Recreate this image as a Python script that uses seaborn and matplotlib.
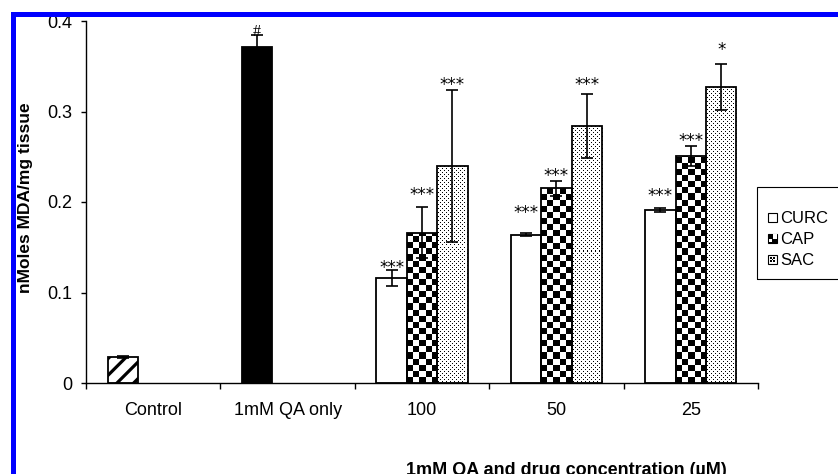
import numpy as np
import pandas as pd
import matplotlib
matplotlib.use("Agg")
import matplotlib.pyplot as plt
import seaborn as sns
from matplotlib.patches import Rectangle
from matplotlib.colors import ListedColormap
from matplotlib.legend_handler import HandlerBase

# ---------------- data ----------------
categories = ["Control", "1mM QA only", "100", "50", "25"]
series = ["CURC", "CAP", "SAC"]
single_groups = ["Control", "1mM QA only"]
single_values = [0.029, 0.371]
single_errors = [0.001, 0.013]
single_labels = ["", "#"]
single_label_y = [None, 0.390]

conc_groups = ["100", "50", "25"]
curc_values = [0.116, 0.164, 0.191]
curc_errors = [0.009, 0.002, 0.002]
cap_values = [0.166, 0.215, 0.251]
cap_errors = [0.028, 0.008, 0.011]
sac_values = [0.240, 0.284, 0.327]
sac_errors = [0.084, 0.035, 0.025]
curc_labels = ["***", "***", "***"]
cap_labels = ["***", "***", "***"]
sac_labels = ["***", "***", "*"]
curc_label_y = [0.132, 0.193, 0.212]
cap_label_y = [0.213, 0.2335, 0.273]
sac_label_y = [0.334, 0.334, 0.3735]

y_ticks = [0, 0.1, 0.2, 0.3, 0.4]
y_ticklabels = ["0", "0.1", "0.2", "0.3", "0.4"]
ylabel = "nMoles MDA/mg tissue"
xlabel = "1mM QA and drug concentration (\u00b5M)"

# ---------------- table ----------------
rows = []
for g, v, e, l, ly in zip(single_groups, single_values, single_errors, single_labels, single_label_y):
    rows.append(dict(group=g, series="CURC", value=v, err=e, label=l, label_y=ly))
for name, vals, errs, labs, lys in [("CURC", curc_values, curc_errors, curc_labels, curc_label_y),
                                    ("CAP", cap_values, cap_errors, cap_labels, cap_label_y),
                                    ("SAC", sac_values, sac_errors, sac_labels, sac_label_y)]:
    for g, v, e, l, ly in zip(conc_groups, vals, errs, labs, lys):
        rows.append(dict(group=g, series=name, value=v, err=e, label=l, label_y=ly))
df = pd.DataFrame(rows)

# ---------------- style ----------------
sns.set_style("white")
plt.rcParams["font.family"] = ["Liberation Sans", "DejaVu Sans"]
plt.rcParams["hatch.linewidth"] = 2.3
plt.rcParams["hatch.color"] = "black"

W, H = 838, 474
fig = plt.figure(figsize=(W / 100, H / 100), dpi=100)
fig.patch.set_facecolor("white")
ax = fig.add_axes([86 / W, 1 - 383 / H, 672 / W, 362 / H])
ax.set_facecolor("white")

sns.barplot(data=df, x="group", y="value", hue="series", order=categories,
            hue_order=series, palette=["white", "white", "white"], saturation=1,
            width=0.68, dodge=True, errorbar=None, legend=False,
            edgecolor="black", linewidth=1.3, ax=ax)

ax.set_xlim(-0.5, 4.5)
ax.set_ylim(0, 0.4)

# ---------------- styling bars / textures ----------------
checker_cmap = ListedColormap(["white", "black"])


def bar_px(p):
    x0, w, h = p.get_x(), p.get_width(), p.get_height()
    (a, b), (c, d) = ax.transData.transform([(x0, 0), (x0 + w, h)])
    return abs(c - a), abs(d - b)


bars = []
for cont, sname in zip(ax.containers, series):
    for p in cont.patches:
        xc = p.get_x() + p.get_width() / 2
        gi = int(round(xc))
        gname = categories[gi]
        rec = df[(df.group == gname) & (df.series == sname)].iloc[0]
        bars.append((p, gname, sname, rec))

for p, gname, sname, rec in bars:
    x0, w, h = p.get_x(), p.get_width(), p.get_height()
    w_px, h_px = bar_px(p)
    z = p.get_zorder()
    if gname == "Control":
        p.set_facecolor("white")
        p.set_hatch("//")
    elif gname == "1mM QA only":
        p.set_facecolor("black")
    elif sname == "CURC":
        p.set_facecolor("white")
    elif sname == "CAP":
        p.set_facecolor("none")
        nx = max(1, int(round(w_px / 6.3)))
        cell_px = w_px / nx
        ny = int(np.ceil(h_px / cell_px))
        cell_h = cell_px * h / h_px
        arr = (np.add.outer(np.arange(ny), np.arange(nx)) + 1) % 2
        im = ax.imshow(arr, cmap=checker_cmap, vmin=0, vmax=1, origin="lower",
                       extent=(x0, x0 + w, 0, ny * cell_h), interpolation="nearest",
                       aspect="auto", zorder=z - 0.1)
        im.set_clip_path(p)
    elif sname == "SAC":
        p.set_facecolor("none")
        Wp, Hp = int(np.ceil(w_px)) + 1, int(np.ceil(h_px)) + 1
        dx, dy = w / w_px, h / h_px
        arr = np.zeros((Hp, Wp))
        arr[1::4, 1::4] = 1
        arr[3::4, 3::4] = 1
        im = ax.imshow(arr, cmap=checker_cmap, vmin=0, vmax=1, origin="lower",
                       extent=(x0, x0 + Wp * dx, 0, Hp * dy), interpolation="nearest",
                       aspect="auto", zorder=z - 0.1)
        im.set_clip_path(p)

ax.set_xlim(-0.5, 4.5)
ax.set_ylim(0, 0.4)

# ---------------- error bars and significance ----------------
xs = [p.get_x() + p.get_width() / 2 for p, *_ in bars]
ys = [p.get_height() for p, *_ in bars]
es = [rec.err for *_, rec in bars]
ax.errorbar(xs, ys, yerr=es, fmt="none", ecolor="black", elinewidth=1.2,
            capsize=4, capthick=1.2, zorder=5)

for (p, gname, sname, rec), x in zip(bars, xs):
    if not rec.label:
        continue
    if rec.label == "#":
        ax.annotate("#", (x, rec.label_y), xytext=(0, -4.0), textcoords="offset points",
                    ha="center", va="baseline", fontsize=11.5,
                    family=["Liberation Serif", "DejaVu Serif"], color="black",
                    annotation_clip=False, zorder=6)
    else:
        ax.annotate(rec.label, (x, rec.label_y), xytext=(0, -7.0), textcoords="offset points",
                    ha="center", va="baseline", fontsize=12, family=["DejaVu Sans"],
                    color="black", annotation_clip=False, zorder=6)

# ---------------- axes ----------------
ax.set_xlabel("")
ax.set_ylabel("")
for s in ["top", "right"]:
    ax.spines[s].set_visible(False)
for s in ["left", "bottom"]:
    ax.spines[s].set_color("black")
    ax.spines[s].set_linewidth(1.0)

ax.set_yticks(y_ticks)
ax.set_yticklabels(y_ticklabels)
ax.tick_params(axis="y", which="major", direction="out", length=3.6, width=1.0,
               pad=6.5, labelsize=13, color="black", labelcolor="black", left=True)
ax.set_xticks(range(len(categories)))
ax.set_xticklabels(categories)
ax.set_xticks(np.arange(-0.5, len(categories), 1.0), minor=True)
ax.tick_params(axis="x", which="major", length=0, pad=14, labelsize=13, labelcolor="black")
ax.tick_params(axis="x", which="minor", direction="out", length=4.3, width=1.0,
               color="black", bottom=True)
ax.grid(False)

fig.text(25.6 / W, 1 - 198 / H, ylabel, rotation=90, ha="center", va="center",
         fontsize=12.5, fontweight="bold", color="black")
fig.text(566 / W, 1 - 474.7 / H, xlabel, ha="center", va="baseline",
         fontsize=13, fontweight="bold", color="black")


# ---------------- legend ----------------
class SquareHandler(HandlerBase):
    def __init__(self, kind):
        super().__init__()
        self.kind = kind

    def create_artists(self, legend, orig_handle, xdescent, ydescent, width, height,
                       fontsize, trans):
        s = min(width, height)
        x0 = -xdescent
        y0 = -ydescent + (height - s) / 2
        arts = []
        if self.kind == "CAP":
            arts.append(Rectangle((x0, y0), s, s, facecolor="black", edgecolor="black",
                                  linewidth=0.8, transform=trans))
            arts.append(Rectangle((x0 + s / 2, y0 + s / 2), s / 2, s / 2, facecolor="white",
                                  edgecolor="none", transform=trans))
            arts.append(Rectangle((x0 + s * 0.1, y0 + s * 0.1), s * 0.35, s * 0.35,
                                  facecolor="white", edgecolor="none", transform=trans))
        elif self.kind == "SAC":
            arts.append(Rectangle((x0, y0), s, s, facecolor="white", edgecolor="black",
                                  linewidth=0.8, transform=trans))
            for fx, fy in [(0.3, 0.3), (0.7, 0.3), (0.5, 0.5), (0.3, 0.7), (0.7, 0.7)]:
                arts.append(Rectangle((x0 + fx * s - 0.6, y0 + fy * s - 0.6), 1.3, 1.3,
                                      facecolor="black", edgecolor="none", transform=trans))
        else:
            arts.append(Rectangle((x0, y0), s, s, facecolor="white", edgecolor="black",
                                  linewidth=0.8, transform=trans))
        return arts


handles = [Rectangle((0, 0), 1, 1, label=s) for s in series]
leg = ax.legend(handles, series, loc="upper left",
                bbox_to_anchor=(768 / W, 1 - 211.5 / H), bbox_transform=fig.transFigure,
                frameon=False, fontsize=12, borderpad=0, borderaxespad=0,
                handlelength=0.54, handleheight=0.54, handletextpad=0.2,
                labelspacing=0.36,
                handler_map={h: SquareHandler(s) for h, s in zip(handles, series)})
for t in leg.get_texts():
    t.set_color("black")

fig.patches.append(Rectangle((757.3 / W, 1 - 279 / H), 100 / W, (279 - 186.7) / H,
                             transform=fig.transFigure, facecolor="none",
                             edgecolor="black", linewidth=0.8, zorder=10))

# ---------------- blue border ----------------
fig.patches.append(Rectangle((12.5 / W, 1 - 475.5 / H), (850 - 12.5) / W, (475.5 - 14.4) / H,
                             transform=fig.transFigure, facecolor="none",
                             edgecolor=(0, 0, 1), linewidth=3.6, zorder=20))

fig.savefig("out.png", dpi=100, facecolor="white")
